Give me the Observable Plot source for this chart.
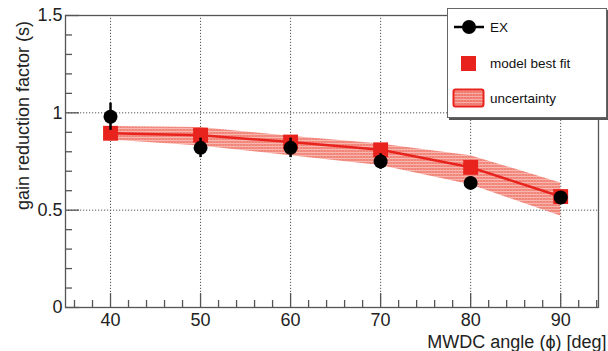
<!DOCTYPE html>
<html>
<head>
<meta charset="utf-8">
<script src="https://cdn.jsdelivr.net/npm/d3@7"></script>
<script src="https://cdn.jsdelivr.net/npm/@observablehq/plot@0.6"></script>
<style>
  body { margin: 0; background: #fff; font-family: "Liberation Sans", Arial, sans-serif; }
  #wrap { position: relative; width: 608px; height: 351px; }
  #legend { position: absolute; left: 447px; top: 8px; width: 158px; height: 108px;
    background: #fff; border: 1px solid #666; box-shadow: 2px 2px 0 #555; font-size: 13.5px; color: #111; }
  .item { position: absolute; left: 4px; display: flex; align-items: center; }
  .item span { margin-left: 4px; }
</style>
</head>
<body>
<div id="wrap"></div>
<script>
// Data
const angles = [40, 50, 60, 70, 80, 90];
const exValues = [0.98, 0.82, 0.82, 0.75, 0.64, 0.565];
const exErrors = [0.07, 0.05, 0.05, 0.04, 0.03, 0.02];
const modelValues = [0.895, 0.885, 0.85, 0.81, 0.72, 0.57];
const bandLow = [0.86, 0.83, 0.78, 0.73, 0.63, 0.47];
const bandHigh = [0.93, 0.925, 0.88, 0.84, 0.78, 0.64];
const xTicks = [40, 50, 60, 70, 80, 90];
const xMinor = [36, 38, 42, 44, 46, 48, 52, 54, 56, 58, 62, 64, 66, 68, 72, 74, 76, 78, 82, 84, 86, 88, 92, 94];
const yTicks = [0, 0.5, 1, 1.5];
const yTickLabels = ["0", "0.5", "1", "1.5"];
const yMinor = [0.1, 0.2, 0.3, 0.4, 0.6, 0.7, 0.8, 0.9, 1.1, 1.2, 1.3, 1.4];
const legendLabels = ["EX", "model best fit", "uncertainty"];
const xTitle = "MWDC angle (\u03D5) [deg]";
const yTitle = "gain reduction factor (s)";

const ex = angles.map((a, i) => ({x: a, y: exValues[i], lo: exValues[i] - exErrors[i], hi: exValues[i] + exErrors[i]}));
const model = angles.map((a, i) => ({x: a, y: modelValues[i], lo: bandLow[i], hi: bandHigh[i]}));

const red = "#e8231d";
const xd = [35, 94.2];
const pxX = (598 - 65) / (xd[1] - xd[0]);   // px per degree
const pxY = (307 - 15) / 1.5;               // px per unit
const majLenY = 14 / pxX;
const minLenY = 7 / pxX;
const majLenX = 14 / pxY;
const minLenX = 7 / pxY;

const chart = Plot.plot({
  width: 608,
  height: 351,
  marginLeft: 65,
  marginRight: 10,
  marginTop: 15,
  marginBottom: 44,
  x: {domain: xd, axis: null},
  y: {domain: [0, 1.5], axis: null},
  style: {fontFamily: "Liberation Sans, Arial, sans-serif", background: "#fff"},
  marks: [
    // dotted grid
    Plot.ruleX(xTicks, {y1: 0, y2: 1.5, stroke: "#555", strokeWidth: 1, strokeDasharray: "1.2,1.8"}),
    Plot.ruleY([0.5, 1], {x1: xd[0], x2: xd[1], stroke: "#555", strokeWidth: 1, strokeDasharray: "1.2,1.8"}),
    // uncertainty band
    Plot.areaY(model, {x: "x", y1: "lo", y2: "hi", fill: "url(#hatch)", fillOpacity: 0.9}),
    // model line
    Plot.line(model, {x: "x", y: "y", stroke: red, strokeWidth: 2.5}),
    Plot.dot(model, {x: "x", y: "y", symbol: "square", r: 8.4, fill: red, stroke: "none"}),
    // EX error bars and points
    Plot.ruleX(ex, {x: "x", y1: "lo", y2: "hi", stroke: "#000", strokeWidth: 2.5}),
    Plot.dot(ex, {x: "x", y: "y", r: 7, fill: "#000", stroke: "none"}),
    // frame
    Plot.frame({stroke: "#555", strokeWidth: 1.3}),
    // inward ticks
    Plot.ruleY(yTicks, {x1: xd[0], x2: xd[0] + majLenY, stroke: "#555", strokeWidth: 1.3}),
    Plot.ruleY(yMinor, {x1: xd[0], x2: xd[0] + minLenY, stroke: "#555", strokeWidth: 1.3}),
    Plot.ruleX(xTicks, {y1: 0, y2: majLenX, stroke: "#555", strokeWidth: 1.3}),
    Plot.ruleX(xMinor, {y1: 0, y2: minLenX, stroke: "#555", strokeWidth: 1.3}),
    // tick labels
    Plot.text(yTicks, {x: xd[0], y: d => d, text: (d, i) => yTickLabels[i], textAnchor: "end", dx: -3, fontSize: 18, fill: "#222"}),
    Plot.text(xTicks, {x: d => d, y: 0, text: d => String(d), dy: 12.5, fontSize: 18, fill: "#222"}),
    // axis titles (placed in data coordinates outside the frame)
    Plot.text([xTitle], {x: xd[0] + (606 - 65) / pxX, y: -(341.5 - 307) / pxY, text: d => d, textAnchor: "end", fontSize: 18, fill: "#222"}),
    Plot.text([yTitle], {x: xd[0] - (65 - 23) / pxX, y: (307 - 115) / pxY, text: d => d, rotate: -90, fontSize: 18, fill: "#222"})
  ]
});

// hatch pattern for the uncertainty band
const ns = "http://www.w3.org/2000/svg";
const defs = document.createElementNS(ns, "defs");
defs.innerHTML = `<pattern id="hatch" width="3" height="3" patternUnits="userSpaceOnUse">
  <rect width="3" height="3" fill="#f1786c"/>
  <rect y="2" width="3" height="1" fill="#f7b3ab"/>
  <rect x="2" width="1" height="3" fill="#f49a90" opacity="0.6"/>
</pattern>`;
chart.insertBefore(defs, chart.firstChild);

const wrap = document.getElementById("wrap");
wrap.appendChild(chart);

// legend
const legend = document.createElement("div");
legend.id = "legend";
legend.innerHTML = `
  <div class="item" style="top:10px"><svg width="34" height="16"><line x1="2" y1="8" x2="32" y2="8" stroke="#000" stroke-width="2.5"/><circle cx="17" cy="8" r="7" fill="#000"/></svg><span>${legendLabels[0]}</span></div>
  <div class="item" style="top:46px"><svg width="34" height="16"><rect x="9" y="1" width="15" height="15" fill="${red}"/></svg><span>${legendLabels[1]}</span></div>
  <div class="item" style="top:79px"><svg width="34" height="20"><rect x="1.5" y="1.5" width="30" height="17" rx="2" fill="url(#hatch)" stroke="${red}" stroke-width="2"/></svg><span>${legendLabels[2]}</span></div>
`;
wrap.appendChild(legend);
</script>
</body>
</html>
